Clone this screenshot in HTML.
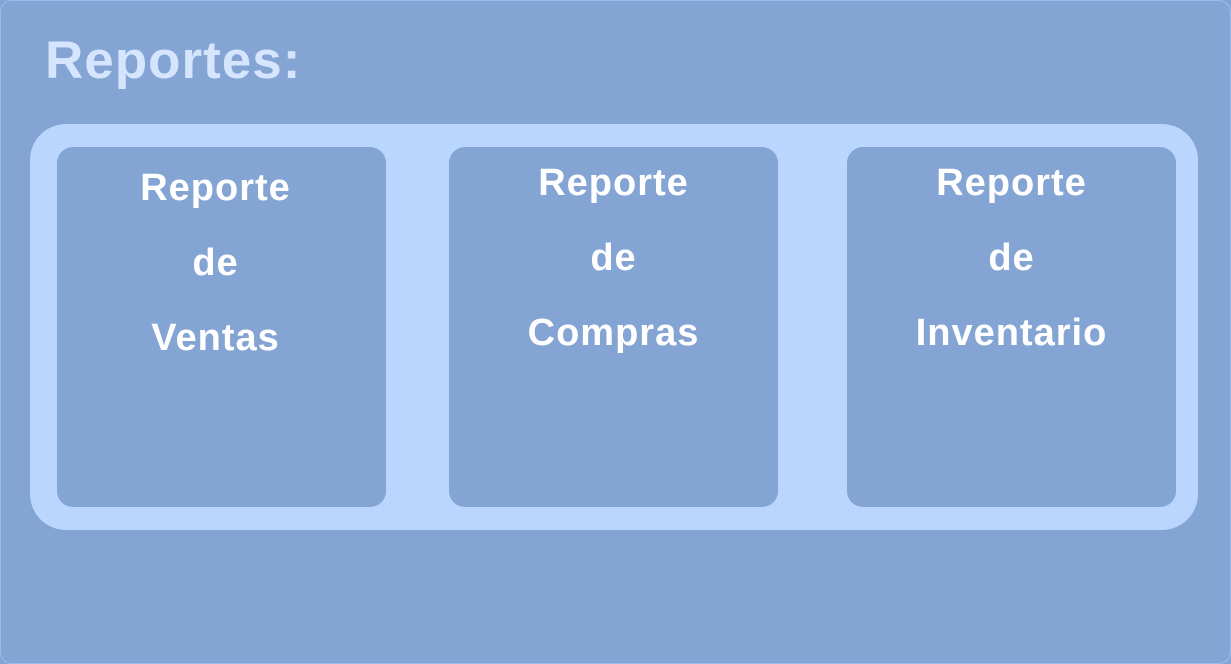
<!DOCTYPE html>
<html><head><meta charset="utf-8"><style>
body{margin:0;width:1231px;height:664px;background:#84a4d3;overflow:hidden;font-family:"Liberation Sans",sans-serif;}
.outer{position:absolute;left:0;top:0;width:1229px;height:662px;border:1px solid #9dbbec;border-radius:12px;background:#84a4d3;}
.title{position:absolute;left:45px;top:30px;font-size:53px;font-weight:bold;color:#d5e5fd;letter-spacing:1px;line-height:62px;}
.band{position:absolute;left:30px;top:124px;width:1168px;height:406px;background:#bad6fe;border-radius:36px;}
.card{position:absolute;top:147px;width:329px;height:360px;background:#84a4d3;border-radius:16px;color:#fff;font-weight:bold;font-size:38px;letter-spacing:1px;text-align:center;}
.card div{position:absolute;left:0;right:0;height:44px;line-height:44px;}
</style></head><body>
<div class="outer"></div>
<div class="title">Reportes:</div>
<div class="band"></div>
<div class="card" style="left:57px"><div style="top:19px;right:12px">Reporte</div><div style="top:94px;right:12px">de</div><div style="top:169px;right:12px">Ventas</div></div>
<div class="card" style="left:449px"><div style="top:14px">Reporte</div><div style="top:89px">de</div><div style="top:164px">Compras</div></div>
<div class="card" style="left:847px"><div style="top:14px">Reporte</div><div style="top:89px">de</div><div style="top:164px">Inventario</div></div>
</body></html>
